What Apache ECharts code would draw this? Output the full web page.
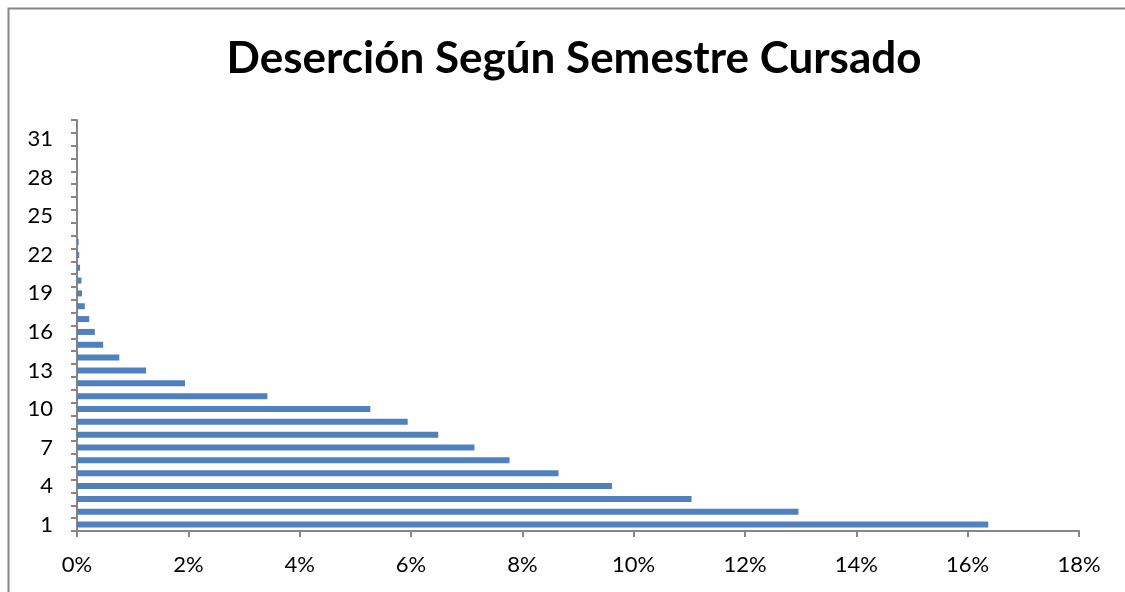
<!DOCTYPE html>
<html>
<head>
<meta charset="utf-8">
<script src="https://cdn.jsdelivr.net/npm/echarts@6/dist/echarts.min.js"></script>
<style>
  html, body { margin: 0; padding: 0; background: #fff; }
  #chart { width: 1125px; height: 592px; }
</style>
</head>
<body>
<div id="chart"></div>
<script>
// semestres 1..32
var semestres = []
for (var s = 1; s <= 32; s++) semestres.push(String(s))

// % de deserción por semestre
var desercion = [
  16.37, 12.96, 11.04, 9.61, 8.65, 7.77, 7.14, 6.49, 5.94, 5.27,
  3.42, 1.94, 1.24, 0.76, 0.47, 0.32, 0.22, 0.14, 0.09, 0.08,
  0.055, 0.04, 0.03, 0.015, 0, 0, 0, 0, 0, 0,
  0, 0
]

var xMax = 18
var xStep = 2

var myChart = echarts.init(document.getElementById('chart'))
var option = {
  animation: false,
  backgroundColor: '#fff',
  graphic: [
    {
      type: 'rect',
      shape: { x: 8.5, y: 8.5, width: 1200, height: 700 },
      style: { fill: 'none', stroke: '#868686', lineWidth: 2 },
      silent: true
    }
  ],
  title: {
    text: 'Deserción Según Semestre Cursado',
    left: 569,
    textAlign: 'center',
    top: 32,
    textStyle: {
      fontFamily: 'Lato',
      fontWeight: 'bold',
      fontSize: 44,
      color: '#000'
    }
  },
  grid: {
    left: 77,
    right: 46,
    top: 120,
    bottom: 61,
    containLabel: false
  },
  xAxis: {
    type: 'value',
    min: 0,
    max: xMax,
    interval: xStep,
    axisLine: { show: true, lineStyle: { color: '#868686', width: 2 } },
    axisTick: { show: true, length: 6, lineStyle: { color: '#868686', width: 2 } },
    splitLine: { show: false },
    axisLabel: {
      margin: 23,
      fontFamily: 'Lato',
      fontSize: 22,
      color: '#000',
      formatter: '{value}%'
    }
  },
  yAxis: {
    type: 'category',
    data: semestres,
    boundaryGap: true,
    axisLine: { show: true, lineStyle: { color: '#868686', width: 2 } },
    axisTick: { show: true, interval: 0, length: 6, lineStyle: { color: '#868686', width: 2 } },
    axisLabel: {
      interval: 2,
      margin: 24,
      fontFamily: 'Lato',
      fontSize: 22,
      color: '#000'
    }
  },
  series: [
    {
      name: 'Deserción',
      type: 'bar',
      barWidth: 6,
      itemStyle: { color: '#4F81BD' },
      data: desercion
    }
  ]
}
myChart.setOption(option)
</script>
</body>
</html>
